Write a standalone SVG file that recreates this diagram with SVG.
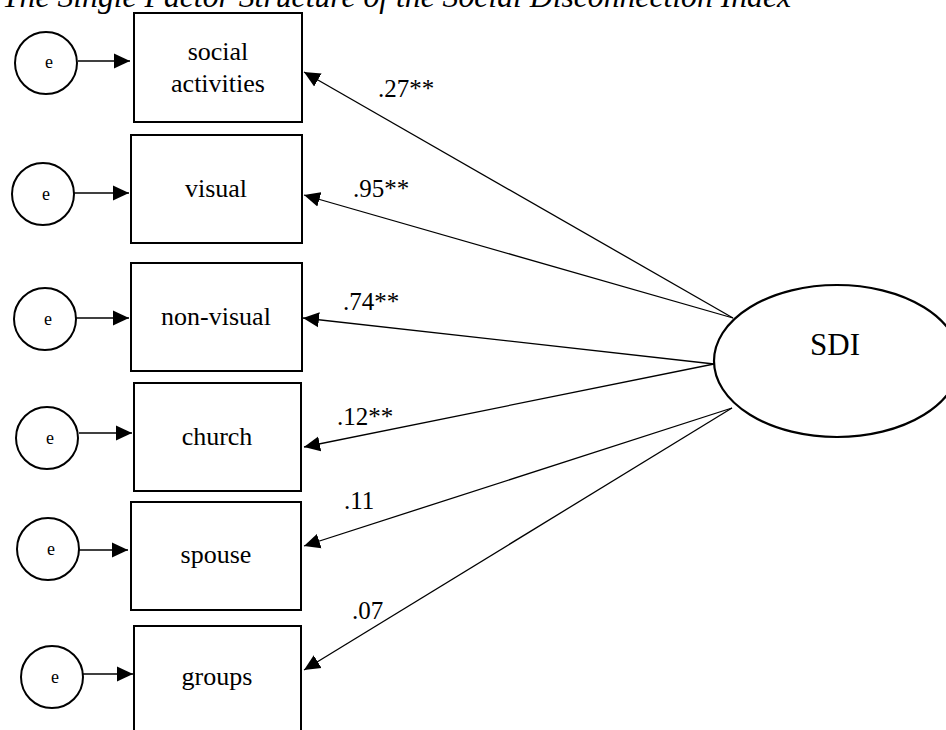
<svg xmlns="http://www.w3.org/2000/svg" width="946" height="730" viewBox="0 0 946 730">
  <style>
    .box { fill: #fff; stroke: #000; stroke-width: 2; }
    .err { fill: #fff; stroke: #000; stroke-width: 2; }
    .lat { fill: #fff; stroke: #000; stroke-width: 2.2; }
    .lbl { font-family: "Liberation Serif", "Times New Roman", serif; font-size: 26px; fill: #000; text-anchor: middle; }
    .e { font-family: "Liberation Serif", "Times New Roman", serif; font-size: 18px; fill: #000; text-anchor: middle; }
    .coef { font-family: "Liberation Serif", "Times New Roman", serif; font-size: 25px; fill: #000; }
    .sdi { font-family: "Liberation Serif", "Times New Roman", serif; font-size: 31px; fill: #000; text-anchor: middle; }
    .title { font-family: "Liberation Serif", "Times New Roman", serif; font-size: 31.7px; font-style: italic; fill: #000; }
    .conn line { stroke: #000; stroke-width: 1.3; fill: none; marker-end: url(#arrow); }
  </style>
  <defs>
    <marker id="arrow" markerUnits="userSpaceOnUse" markerWidth="16" markerHeight="16" viewBox="0 0 16 16" refX="16" refY="8" orient="auto">
      <path d="M0,0.5 L16,8 L0,15.5 Z" fill="#000"/>
    </marker>
  </defs>
  <rect width="946" height="730" fill="#fff"/>

  <text class="title" x="2" y="7">The Single Factor Structure of the Social Disconnection Index</text>

  <!-- connectors -->
  <g id="connectors" class="conn">
    <line x1="78" y1="61" x2="130" y2="61"/>
    <line x1="74" y1="193" x2="129" y2="193"/>
    <line x1="76" y1="318" x2="129" y2="318"/>
    <line x1="79" y1="433" x2="132" y2="433"/>
    <line x1="79" y1="550" x2="128" y2="550"/>
    <line x1="83" y1="674" x2="133" y2="674"/>
    <line x1="733" y1="318" x2="304" y2="72"/>
    <line x1="733" y1="318" x2="304" y2="195"/>
    <line x1="714" y1="364" x2="303" y2="318"/>
    <line x1="714" y1="364" x2="304" y2="447"/>
    <line x1="732" y1="408" x2="304" y2="546"/>
    <line x1="732" y1="408" x2="304" y2="670"/>
  </g>

  <!-- observed indicators -->
  <g id="social-activities">
    <rect class="box" x="134" y="13" width="168" height="109"/>
    <text class="lbl" x="218" y="60">social</text>
    <text class="lbl" x="218" y="92">activities</text>
  </g>
  <g id="visual">
    <rect class="box" x="131" y="135" width="171" height="108"/>
    <text class="lbl" x="216" y="197">visual</text>
  </g>
  <g id="non-visual">
    <rect class="box" x="131" y="263" width="171" height="108"/>
    <text class="lbl" x="216" y="325">non-visual</text>
  </g>
  <g id="church">
    <rect class="box" x="134" y="383" width="167" height="108"/>
    <text class="lbl" x="217" y="445">church</text>
  </g>
  <g id="spouse">
    <rect class="box" x="131" y="502" width="170" height="108"/>
    <text class="lbl" x="216" y="563">spouse</text>
  </g>
  <g id="groups">
    <rect class="box" x="134" y="626" width="167" height="108"/>
    <text class="lbl" x="217" y="685">groups</text>
  </g>

  <!-- error terms -->
  <g id="e1"><circle class="err" cx="46" cy="63" r="31"/><text class="e" x="49" y="68">e</text></g>
  <g id="e2"><circle class="err" cx="43" cy="194" r="31"/><text class="e" x="46" y="200">e</text></g>
  <g id="e3"><circle class="err" cx="45" cy="319" r="31"/><text class="e" x="48" y="325">e</text></g>
  <g id="e4"><circle class="err" cx="47" cy="438" r="31"/><text class="e" x="50" y="444">e</text></g>
  <g id="e5"><circle class="err" cx="48" cy="549" r="31"/><text class="e" x="51" y="555">e</text></g>
  <g id="e6"><circle class="err" cx="52" cy="677" r="31"/><text class="e" x="55" y="683">e</text></g>

  <!-- latent factor -->
  <g id="sdi">
    <ellipse class="lat" cx="837" cy="361" rx="123" ry="76"/>
    <text class="sdi" x="835" y="355">SDI</text>
  </g>

  <!-- loadings -->
  <g id="loadings">
    <text class="coef" x="378" y="97">.27**</text>
    <text class="coef" x="353" y="197">.95**</text>
    <text class="coef" x="343" y="310">.74**</text>
    <text class="coef" x="337" y="425">.12**</text>
    <text class="coef" x="344" y="509">.11</text>
    <text class="coef" x="352" y="619">.07</text>
  </g>
</svg>
